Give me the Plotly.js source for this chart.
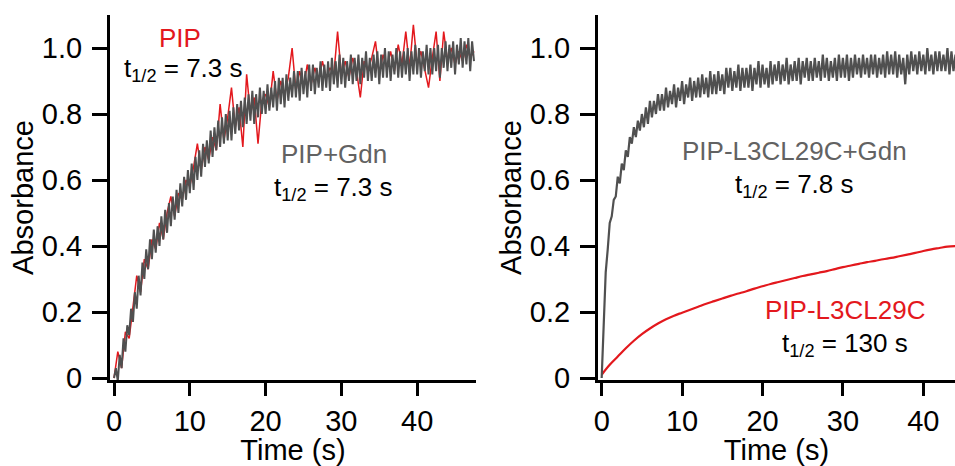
<!DOCTYPE html>
<html>
<head>
<meta charset="utf-8">
<script src="https://cdn.plot.ly/plotly-3.0.1.min.js"></script>
<style>html,body{margin:0;padding:0;background:#fff;}#chart{width:955px;height:466px;}</style>
</head>
<body>
<div id="chart"></div>
<script>
// ---- Data ----
// Left panel: PIP and PIP+Gdn, sampled every 0.5 s / 0.25 s starting at t = 0
const leftRedStep = 0.5;
const leftRed = [
  0.00,0.08,0.03,0.14,0.12,0.22,0.31,0.26,0.36,0.33,
  0.42,0.39,0.47,0.42,0.50,0.55,0.49,0.56,0.54,0.60,
  0.58,0.64,0.71,0.63,0.70,0.66,0.73,0.69,0.83,0.72,
  0.79,0.88,0.76,0.82,0.70,0.92,0.80,0.85,0.71,0.84,
  0.86,0.82,0.93,0.84,0.90,0.86,0.91,1.00,0.87,0.93,
  0.88,0.95,0.89,0.94,0.90,0.96,0.91,0.94,0.92,1.05,
  0.92,0.96,0.91,0.97,0.93,0.85,0.96,0.93,0.97,1.02,
  0.92,0.98,0.94,0.99,0.93,1.01,0.95,1.05,0.94,1.07,
  0.95,0.99,0.93,0.88,0.97,1.05,0.90,1.05,0.96,1.00,
  0.95,0.99,0.96,1.01,0.97,0.99
];
const leftGrayStep = 0.25;
const leftGray = [
  0.00,0.03,-0.01,0.07,0.03,0.12,0.08,0.16,
  0.13,0.21,0.17,0.26,0.21,0.31,0.25,0.35,
  0.30,0.39,0.33,0.42,0.36,0.45,0.38,0.46,
  0.40,0.49,0.42,0.51,0.44,0.53,0.46,0.55,
  0.48,0.57,0.50,0.59,0.52,0.61,0.54,0.63,
  0.56,0.65,0.57,0.67,0.60,0.69,0.61,0.71,
  0.64,0.72,0.65,0.75,0.67,0.76,0.69,0.78,
  0.70,0.79,0.71,0.80,0.72,0.81,0.72,0.82,
  0.74,0.83,0.75,0.84,0.76,0.85,0.77,0.86,
  0.78,0.87,0.77,0.86,0.79,0.88,0.80,0.87,
  0.80,0.89,0.81,0.88,0.82,0.90,0.81,0.91,
  0.83,0.91,0.82,0.92,0.84,0.91,0.85,0.93,
  0.85,0.93,0.84,0.94,0.86,0.93,0.85,0.95,
  0.87,0.95,0.86,0.94,0.88,0.96,0.87,0.95,
  0.88,0.96,0.87,0.97,0.89,0.96,0.88,0.98,
  0.89,0.97,0.88,0.96,0.90,0.98,0.89,0.97,
  0.90,0.98,0.89,0.97,0.91,0.99,0.90,0.97,
  0.90,0.98,0.91,0.99,0.89,0.98,0.91,1.00,
  0.91,0.99,0.90,0.98,0.92,1.00,0.91,0.99,
  0.91,0.99,0.92,1.00,0.90,0.99,0.92,1.01,
  0.92,1.00,0.91,0.99,0.93,1.01,0.92,1.00,
  0.92,1.00,0.93,1.01,0.91,1.00,0.94,1.02,
  0.93,1.01,0.94,1.02,0.92,1.01,0.95,1.03,
  0.94,1.02,0.95,1.03,0.93,1.02,0.96
];
// Right panel: PIP-L3CL29C+Gdn (every 0.25 s) and PIP-L3CL29C (every 1 s)
const rightGrayStep = 0.25;
const rightGray = [
  0.00,0.19,0.32,0.39,0.47,0.49,0.54,0.55,
  0.61,0.59,0.65,0.63,0.69,0.67,0.73,0.71,
  0.76,0.73,0.78,0.75,0.80,0.76,0.82,0.77,
  0.84,0.79,0.84,0.80,0.86,0.81,0.86,0.81,
  0.88,0.82,0.87,0.83,0.89,0.82,0.88,0.84,
  0.90,0.83,0.89,0.85,0.91,0.84,0.90,0.85,
  0.91,0.85,0.92,0.86,0.91,0.85,0.93,0.86,
  0.92,0.86,0.93,0.87,0.92,0.86,0.94,0.88,
  0.94,0.87,0.93,0.88,0.95,0.87,0.94,0.88,
  0.94,0.88,0.95,0.87,0.94,0.89,0.96,0.88,
  0.95,0.89,0.94,0.88,0.96,0.89,0.95,0.90,
  0.96,0.89,0.95,0.90,0.97,0.89,0.95,0.90,
  0.96,0.90,0.97,0.89,0.96,0.91,0.97,0.90,
  0.96,0.90,0.97,0.91,0.96,0.90,0.98,0.91,
  0.97,0.90,0.96,0.91,0.97,0.90,0.98,0.91,
  0.97,0.91,0.98,0.90,0.97,0.91,0.98,0.92,
  0.97,0.91,0.98,0.92,0.97,0.91,0.98,0.92,
  0.98,0.91,0.97,0.92,0.98,0.91,0.99,0.92,
  0.98,0.92,0.99,0.91,0.98,0.92,0.97,0.89,
  0.98,0.92,0.99,0.93,0.98,0.92,0.99,0.93,
  0.98,0.92,1.00,0.93,0.98,0.92,0.99,0.93,
  0.99,0.93,0.98,0.93,1.00,0.92,0.99,0.93,
  0.98
];
const rightRedStep = 1;
const rightRed = [
  0.010,0.040,0.065,0.090,0.113,0.133,0.150,0.165,0.178,0.189,
  0.198,0.207,0.216,0.225,0.233,0.241,0.249,0.256,0.263,0.271,
  0.278,0.285,0.291,0.297,0.303,0.309,0.314,0.319,0.324,0.330,
  0.336,0.341,0.346,0.351,0.355,0.360,0.364,0.369,0.374,0.379,
  0.385,0.390,0.394,0.398,0.400
];
const yTickVals = [0, 0.2, 0.4, 0.6, 0.8, 1.0];
const yTickText = ['0', '0.2', '0.4', '0.6', '0.8', '1.0'];
const xTickVals = [0, 10, 20, 30, 40];
const xTickText = ['0', '10', '20', '30', '40'];
const labels = {
  pip: 'PIP', pipGdn: 'PIP+Gdn', mut: 'PIP-L3CL29C', mutGdn: 'PIP-L3CL29C+Gdn',
  tPip: 't<sub>1/2</sub> = 7.3 s', tPipGdn: 't<sub>1/2</sub> = 7.3 s',
  tMutGdn: 't<sub>1/2</sub> = 7.8 s', tMut: 't<sub>1/2</sub> = 130 s'
};

// ---- Styling ----
const RED = '#e3181d';
const GRAY = '#505050';
const GRAYTXT = '#626262';
const FONT = 'Liberation Sans, Arial, Helvetica, sans-serif';
const FS = 26;
const FS_TICK = 29;
const FS_TITLE = 29;

const traces = [
  {x0: 0, dx: leftRedStep, y: leftRed, xaxis: 'x', yaxis: 'y', mode: 'lines',
   line: {color: RED, width: 1.5}, name: labels.pip},
  {x0: 0, dx: leftGrayStep, y: leftGray, xaxis: 'x', yaxis: 'y', mode: 'lines',
   line: {color: GRAY, width: 2}, name: labels.pipGdn},
  {x0: 0, dx: rightRedStep, y: rightRed, xaxis: 'x2', yaxis: 'y2', mode: 'lines',
   line: {color: RED, width: 2.2, shape: 'spline'}, name: labels.mut},
  {x0: 0, dx: rightGrayStep, y: rightGray, xaxis: 'x2', yaxis: 'y2', mode: 'lines',
   line: {color: GRAY, width: 2.2}, name: labels.mutGdn}
];

function xAxis(domain, range, anchor) {
  return {
    domain: domain, range: range, anchor: anchor,
    showline: true, linewidth: 3, linecolor: '#000',
    ticks: 'outside', ticklen: 13, tickwidth: 3, tickcolor: '#000',
    tickvals: xTickVals, ticktext: xTickText,
    showgrid: false, zeroline: false,
    tickfont: {family: FONT, size: FS_TICK, color: '#000'},
    title: {text: 'Time (s)', font: {family: FONT, size: FS_TITLE, color: '#000'}, standoff: 4}
  };
}
function yAxis(range, anchor) {
  return {
    domain: [0, 1], range: range, anchor: anchor,
    showline: true, linewidth: 3, linecolor: '#000',
    ticks: 'outside', ticklen: 15, tickwidth: 3, tickcolor: '#000',
    tickvals: yTickVals, ticktext: yTickText, ticklabelstandoff: 4,
    showgrid: false, zeroline: false,
    tickfont: {family: FONT, size: FS_TICK, color: '#000'},
    title: {text: 'Absorbance', font: {family: FONT, size: FS_TITLE, color: '#000'}, standoff: 0}
  };
}

function ann(xref, yref, x, y, text, color, xanchor) {
  return {xref: xref, yref: yref, x: x, y: y, text: text, showarrow: false,
    xanchor: xanchor || 'center', yanchor: 'middle',
    font: {family: FONT, size: FS, color: color}};
}

const layout = {
  width: 955, height: 466,
  margin: {l: 110, r: 0, t: 15, b: 86},
  paper_bgcolor: '#fff', plot_bgcolor: '#fff',
  showlegend: false,
  xaxis: xAxis([0, 0.4331], [-0.53, 47.76], 'y'),
  yaxis: yAxis([-0.006, 1.1], 'x'),
  xaxis2: xAxis([0.5775, 1], [-0.46, 43.94], 'y2'),
  yaxis2: yAxis([-0.006, 1.1], 'x2'),
  annotations: [
    ann('x', 'y', 8.7, 1.03, labels.pip, RED),
    ann('x', 'y', 1.05, 0.935, labels.tPip, '#000', 'left'),
    ann('x', 'y', 29.0, 0.679, labels.pipGdn, GRAYTXT),
    ann('x', 'y', 29.0, 0.575, labels.tPipGdn, '#000'),
    ann('x2', 'y2', 24.0, 0.688, labels.mutGdn, GRAYTXT),
    ann('x2', 'y2', 24.0, 0.583, labels.tMutGdn, '#000'),
    ann('x2', 'y2', 30.3, 0.206, labels.mut, RED),
    ann('x2', 'y2', 30.2, 0.103, labels.tMut, '#000')
  ]
};

Plotly.newPlot('chart', traces, layout, {displayModeBar: false});
</script>
</body>
</html>
